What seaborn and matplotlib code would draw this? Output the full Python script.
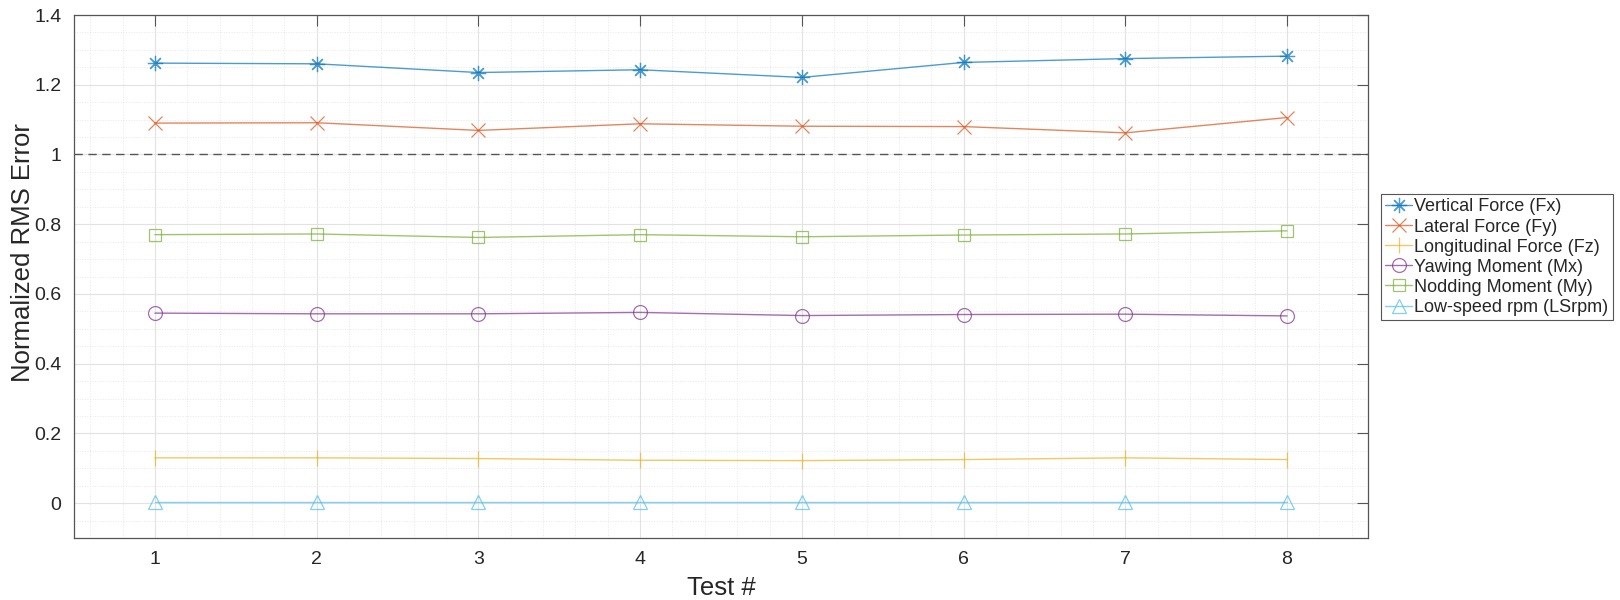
import matplotlib
matplotlib.use('Agg')
import matplotlib.pyplot as plt
import pandas as pd
import seaborn as sns
from matplotlib.ticker import MultipleLocator

# Data
tests = [1, 2, 3, 4, 5, 6, 7, 8]
vertical_fx = [1.262, 1.260, 1.235, 1.243, 1.221, 1.264, 1.275, 1.282]
lateral_fy = [1.090, 1.091, 1.069, 1.088, 1.081, 1.080, 1.062, 1.106]
longitudinal_fz = [0.130, 0.130, 0.128, 0.123, 0.122, 0.125, 0.130, 0.125]
yawing_mx = [0.545, 0.543, 0.543, 0.547, 0.538, 0.541, 0.542, 0.537]
nodding_my = [0.770, 0.772, 0.762, 0.770, 0.764, 0.769, 0.772, 0.781]
lowspeed_rpm = [0.002, 0.002, 0.002, 0.002, 0.002, 0.002, 0.002, 0.002]

labels = ['Vertical Force (Fx)', 'Lateral Force (Fy)', 'Longitudinal Force (Fz)',
          'Yawing Moment (Mx)', 'Nodding Moment (My)', 'Low-speed rpm (LSrpm)']
series = [vertical_fx, lateral_fy, longitudinal_fz, yawing_mx, nodding_my, lowspeed_rpm]
colors = ['#0072BD', '#D95319', '#EDB120', '#7E2F8E', '#77AC30', '#4DBEEE']
markers = [(8, 2, 0), 'x', '|', 'o', 's', '^']
msizes = [11, 10, 12, 10, 8, 10]

df = pd.DataFrame({'test': tests * len(labels),
                   'value': sum(series, []),
                   'name': [l for l in labels for _ in tests]})

sns.set_style('white')
plt.rcParams['font.family'] = ['Liberation Sans', 'DejaVu Sans']

fig = plt.figure(figsize=(16.2, 6), dpi=100)
ax = fig.add_axes([0.0457, 0.1033, 0.7987, 0.8717])

for name, c, m, ms in zip(labels, colors, markers, msizes):
    d = df[df.name == name]
    sns.lineplot(data=d, x='test', y='value', ax=ax, color=c, marker=m, markersize=ms,
                 mfc='none', mec=c, mew=0.9, lw=1.0, alpha=0.7, label=name)

ax.axhline(1, color='#555555', ls=(0, (6, 4)), lw=1.0)

ax.set_xlim(0.5, 8.5)
ax.set_ylim(-0.1, 1.4)
ax.xaxis.set_major_locator(MultipleLocator(1))
ax.xaxis.set_minor_locator(MultipleLocator(0.2))
ax.yaxis.set_minor_locator(MultipleLocator(0.05))
ax.set_yticks([0, 0.2, 0.4, 0.6, 0.8, 1.0, 1.2, 1.4])
ax.set_yticklabels(['0', '0.2', '0.4', '0.6', '0.8', '1', '1.2', '1.4'])

ax.grid(which='major', color='#e2e2e2', lw=0.8)
ax.grid(which='minor', color='#e8e8e8', lw=0.7, ls=':')
ax.set_axisbelow(True)

ax.tick_params(which='major', direction='in', length=8, width=0.8, color='#555555',
               top=True, right=True, labelsize=14, labelcolor='#262626', pad=9)
ax.tick_params(which='minor', length=0)
for s in ax.spines.values():
    s.set_color('#555555')
    s.set_linewidth(0.9)

ax.set_xlabel('Test #', fontsize=18.5, color='#262626', labelpad=6)
ax.set_ylabel('Normalized RMS Error', fontsize=18.5, color='#262626')
ax.yaxis.set_label_coords(-0.03, 0.545)

leg = ax.legend(loc='center left', bbox_to_anchor=(1.01, 0.537), fontsize=13,
                frameon=True, fancybox=False, edgecolor='#555555', framealpha=1,
                handlelength=1.5, handletextpad=0.1, labelspacing=0.17, borderpad=0.25,
                borderaxespad=0)
leg.get_frame().set_linewidth(0.8)

fig.savefig('out.png', dpi=100)
